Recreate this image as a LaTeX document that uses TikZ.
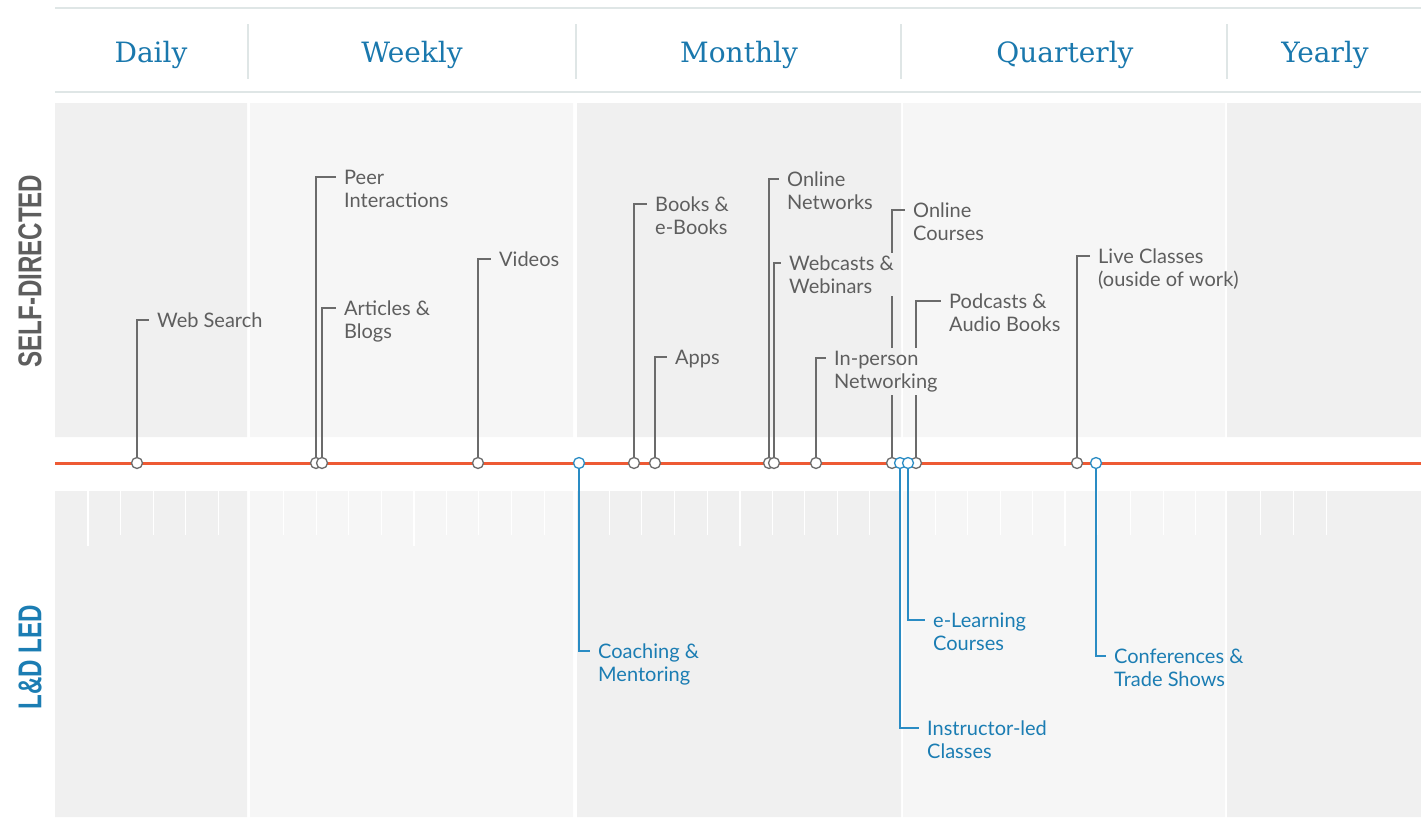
\documentclass[tikz,border=0pt]{standalone}
\usepackage{fontspec}
\usetikzlibrary{calc}
\newfontfamily\labelfont{Lato}
\newfontfamily\headfont{DejaVu Serif}
\newfontfamily\sidefont[FakeStretch=0.73]{Liberation Sans}

\definecolor{bandA}{HTML}{F0F0F0}
\definecolor{bandB}{HTML}{F6F6F6}
\definecolor{rule}{HTML}{DFE6E6}
\definecolor{headblue}{HTML}{1A78AD}
\definecolor{txtgray}{HTML}{5E5E5E}
\definecolor{linegray}{HTML}{6B6B6B}
\definecolor{ldblue}{HTML}{2A8CC4}
\definecolor{ldtxt}{HTML}{1B7DB3}
\definecolor{timeline}{RGB}{238,90,52}

\pgfdeclarelayer{back}
\pgfdeclarelayer{conn}
\pgfdeclarelayer{knock}
\pgfsetlayers{back,conn,knock,main}

% column bands above and below the timeline
\newcommand{\bands}{%
  \fill[bandA] (55,103) rectangle (247,437) (55,491) rectangle (247,817);
  \fill[bandB] (250,103) rectangle (573,437) (250,491) rectangle (573,817);
  \fill[bandA] (577,103) rectangle (901,437) (577,491) rectangle (901,817);
  \fill[bandB] (903,103) rectangle (1225,437) (903,491) rectangle (1225,817);
  \fill[bandA] (1227,103) rectangle (1421,437) (1227,491) rectangle (1421,817);
}

\begin{document}
\begin{tikzpicture}
[x=1pt,y=-1pt,
dot/.style={circle,draw=linegray,fill=white,line width=1.3pt,minimum size=11pt,inner sep=0pt},
ldot/.style={dot,draw=ldblue},
lbl/.style={font=\labelfont\fontsize{20}{23.5}\selectfont,text=txtgray,align=left,anchor=base west,inner xsep=0pt,inner ysep=2pt},
llbl/.style={lbl,text=ldtxt},
conn/.style={draw=linegray,line width=1.3pt},
lconn/.style={conn,draw=ldblue},
head/.style={font=\headfont\fontsize{28}{28}\selectfont,text=headblue,anchor=base},
side/.style={font=\sidefont\bfseries\fontsize{33}{33}\selectfont,rotate=90,inner sep=0pt}]
\useasboundingbox (0,0) rectangle (1421,817);

\begin{pgfonlayer}{back}
\bands
% ticks in the lower band
\foreach \k in {0,...,38}{
  \pgfmathtruncatemacro\m{mod(\k,10)}
  \ifnum\m=5\relax\else
    \ifnum\m=0
      \draw[white,line width=2pt] (88+32.58*\k,491) -- (88+32.58*\k,546);
    \else
      \draw[white,line width=1pt] (88+32.58*\k,491) -- (88+32.58*\k,535);
    \fi
  \fi}
% header rules
\draw[rule,line width=1.5pt] (55,8) -- (1421,8) (55,92) -- (1421,92);
\foreach \x in {248,576,901,1227}
  \draw[rule,line width=1.5pt] (\x,24) -- (\x,79);
\draw[timeline,line width=3pt] (55,463) -- (1421,463);
\end{pgfonlayer}

% headers
\node[head] (hD) at (151,62) {Daily};
\node[head] (hW) at (412,62) {Weekly};
\node[head] (hM) at (739,62) {Monthly};
\node[head] (hQ) at (1065,62) {Quarterly};
\node[head] (hY) at (1325,62) {Yearly};

\node[side,text=txtgray] (sd) at (30,271) {SELF-DIRECTED};
\node[side,text=ldtxt] (ld) at (30,657) {L\&D LED};

% self-directed items
\node[dot] (ws) at (137,463) {};
\node[dot] (peer) at (316,463) {};
\node[dot] (art) at (322,463) {};
\node[dot] (vid) at (478,463) {};
\node[dot] (books) at (634,463) {};
\node[dot] (apps) at (655,463) {};
\node[dot] (onet) at (769,463) {};
\node[dot] (webc) at (774,463) {};
\node[dot] (inp) at (816,463) {};
\node[dot] (ocou) at (892,463) {};
\node[dot] (pod) at (916,463) {};
\node[dot] (live) at (1077,463) {};

% base of a two-line label is its second line
\node[lbl] (wsT) at (157,327) {Web Search};
\node[lbl] (peerT) at (344,207.5) {Peer\\Interactions};
\node[lbl] (artT) at (344,338.5) {Articles \&\\Blogs};
\node[lbl] (vidT) at (499,266) {Videos};
\node[lbl] (booksT) at (655,234.5) {Books \&\\e-Books};
\node[lbl] (appsT) at (675,364) {Apps};
\node[lbl] (onetT) at (787,209.5) {Online\\Networks};
\node[lbl] (webcT) at (789,293.5) {Webcasts \&\\Webinars};
\node[lbl] (inpT) at (834,388.5) {In-person\\Networking};
\node[lbl] (ocouT) at (913,240.5) {Online\\Courses};
\node[lbl] (podT) at (949,331.5) {Podcasts \&\\Audio Books};
\node[lbl] (liveT) at (1098,286.5) {Live Classes\\(ouside of work)};

% L&D led items
\node[ldot] (coach) at (579,463) {};
\node[ldot] (instr) at (900,463) {};
\node[ldot] (elearn) at (908,463) {};
\node[ldot] (conf) at (1096,463) {};

\node[llbl] (coachT) at (598,681.5) {Coaching \&\\Mentoring};
\node[llbl] (instrT) at (927,758.5) {Instructor-led\\Classes};
\node[llbl] (elearnT) at (933,650.5) {e-Learning\\Courses};
\node[llbl] (confT) at (1114,686.5) {Conferences \&\\Trade Shows};

\begin{pgfonlayer}{conn}
\foreach \n/\d in {ws/7,peer/30.5,art/30.5,vid/7,books/30.5,apps/7,onet/30.5,
    webc/30.5,inp/30.5,ocou/30.5,pod/30.5,live/30.5}
  \draw[conn] (\n) |- ($(\n T.base west)+(-8,-\d)$);
\foreach \n in {coach,instr,elearn,conf}
  \draw[lconn] (\n) |- ($(\n T.base west)+(-8,-30.5)$);
\end{pgfonlayer}

% labels cut the connectors passing behind them
\begin{pgfonlayer}{knock}
\foreach \n in {wsT,peerT,artT,vidT,booksT,appsT,onetT,webcT,inpT,ocouT,podT,liveT}{
  \begin{scope}
  \clip ([xshift=-4pt]\n.south west) rectangle ([xshift=4pt]\n.north east);
  \bands
  \end{scope}}
\end{pgfonlayer}
\end{tikzpicture}
\end{document}
